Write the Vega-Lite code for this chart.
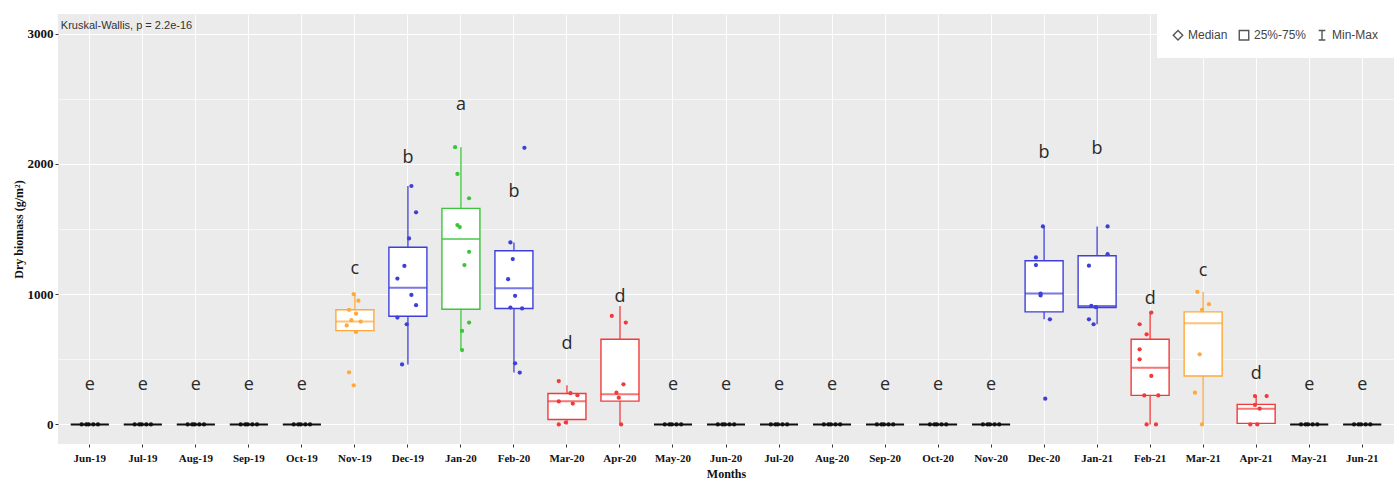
{
  "$schema": "https://vega.github.io/schema/vega-lite/v6.json",
  "width": 1336,
  "height": 430,
  "autosize": {"type": "none"},
  "padding": {"left": 58, "top": 14, "right": 3, "bottom": 38},
  "background": "white",
  "config": {
    "view": {"fill": "#EBEBEB", "stroke": null},
    "axis": {"domain": false, "tickColor": "#333333", "tickSize": 3, "gridColor": "#FFFFFF"}
  },
  "datasets": {
    "stats": [
      {"month": "Jun-19", "group": "e", "lo": 0, "q1": 0, "med": 0, "q3": 0, "hi": 0, "label_y": 300},
      {"month": "Jul-19", "group": "e", "lo": 0, "q1": 0, "med": 0, "q3": 0, "hi": 0, "label_y": 300},
      {"month": "Aug-19", "group": "e", "lo": 0, "q1": 0, "med": 0, "q3": 0, "hi": 0, "label_y": 300},
      {"month": "Sep-19", "group": "e", "lo": 0, "q1": 0, "med": 0, "q3": 0, "hi": 0, "label_y": 300},
      {"month": "Oct-19", "group": "e", "lo": 0, "q1": 0, "med": 0, "q3": 0, "hi": 0, "label_y": 300},
      {"month": "Nov-19", "group": "c", "lo": 700, "q1": 720, "med": 790, "q3": 880, "hi": 1000, "label_y": 1195},
      {"month": "Dec-19", "group": "b", "lo": 461, "q1": 830, "med": 1050, "q3": 1360, "hi": 1830, "label_y": 2045},
      {"month": "Jan-20", "group": "a", "lo": 571, "q1": 884, "med": 1423, "q3": 1658, "hi": 2128, "label_y": 2450},
      {"month": "Feb-20", "group": "b", "lo": 398, "q1": 890, "med": 1046, "q3": 1333, "hi": 1397, "label_y": 1785},
      {"month": "Mar-20", "group": "d", "lo": 0, "q1": 38, "med": 179, "q3": 238, "hi": 300, "label_y": 615},
      {"month": "Apr-20", "group": "d", "lo": 0, "q1": 179, "med": 231, "q3": 654, "hi": 910, "label_y": 975},
      {"month": "May-20", "group": "e", "lo": 0, "q1": 0, "med": 0, "q3": 0, "hi": 0, "label_y": 300},
      {"month": "Jun-20", "group": "e", "lo": 0, "q1": 0, "med": 0, "q3": 0, "hi": 0, "label_y": 300},
      {"month": "Jul-20", "group": "e", "lo": 0, "q1": 0, "med": 0, "q3": 0, "hi": 0, "label_y": 300},
      {"month": "Aug-20", "group": "e", "lo": 0, "q1": 0, "med": 0, "q3": 0, "hi": 0, "label_y": 300},
      {"month": "Sep-20", "group": "e", "lo": 0, "q1": 0, "med": 0, "q3": 0, "hi": 0, "label_y": 300},
      {"month": "Oct-20", "group": "e", "lo": 0, "q1": 0, "med": 0, "q3": 0, "hi": 0, "label_y": 300},
      {"month": "Nov-20", "group": "e", "lo": 0, "q1": 0, "med": 0, "q3": 0, "hi": 0, "label_y": 300},
      {"month": "Dec-20", "group": "b", "lo": 807, "q1": 864, "med": 1005, "q3": 1256, "hi": 1520, "label_y": 2085},
      {"month": "Jan-21", "group": "b", "lo": 769, "q1": 897, "med": 910, "q3": 1295, "hi": 1520, "label_y": 2115},
      {"month": "Feb-21", "group": "d", "lo": 0, "q1": 223, "med": 436, "q3": 654, "hi": 859, "label_y": 960},
      {"month": "Mar-21", "group": "c", "lo": 0, "q1": 372, "med": 777, "q3": 864, "hi": 1018, "label_y": 1180},
      {"month": "Apr-21", "group": "d", "lo": 0, "q1": 8, "med": 121, "q3": 154, "hi": 218, "label_y": 385},
      {"month": "May-21", "group": "e", "lo": 0, "q1": 0, "med": 0, "q3": 0, "hi": 0, "label_y": 300},
      {"month": "Jun-21", "group": "e", "lo": 0, "q1": 0, "med": 0, "q3": 0, "hi": 0, "label_y": 300}
    ],
    "points": [
      {"month": "Jun-19", "group": "e", "biomass": 0, "rep": 2}, {"month": "Jun-19", "group": "e", "biomass": 0, "rep": 4}, {"month": "Jun-19", "group": "e", "biomass": 0, "rep": 5}, {"month": "Jun-19", "group": "e", "biomass": 0, "rep": 7}, {"month": "Jun-19", "group": "e", "biomass": 0, "rep": 9},
      {"month": "Jul-19", "group": "e", "biomass": 0, "rep": 2}, {"month": "Jul-19", "group": "e", "biomass": 0, "rep": 4}, {"month": "Jul-19", "group": "e", "biomass": 0, "rep": 5}, {"month": "Jul-19", "group": "e", "biomass": 0, "rep": 7}, {"month": "Jul-19", "group": "e", "biomass": 0, "rep": 9},
      {"month": "Aug-19", "group": "e", "biomass": 0, "rep": 2}, {"month": "Aug-19", "group": "e", "biomass": 0, "rep": 4}, {"month": "Aug-19", "group": "e", "biomass": 0, "rep": 5}, {"month": "Aug-19", "group": "e", "biomass": 0, "rep": 7}, {"month": "Aug-19", "group": "e", "biomass": 0, "rep": 9},
      {"month": "Sep-19", "group": "e", "biomass": 0, "rep": 2}, {"month": "Sep-19", "group": "e", "biomass": 0, "rep": 4}, {"month": "Sep-19", "group": "e", "biomass": 0, "rep": 5}, {"month": "Sep-19", "group": "e", "biomass": 0, "rep": 7}, {"month": "Sep-19", "group": "e", "biomass": 0, "rep": 9},
      {"month": "Oct-19", "group": "e", "biomass": 0, "rep": 2}, {"month": "Oct-19", "group": "e", "biomass": 0, "rep": 4}, {"month": "Oct-19", "group": "e", "biomass": 0, "rep": 5}, {"month": "Oct-19", "group": "e", "biomass": 0, "rep": 7}, {"month": "Oct-19", "group": "e", "biomass": 0, "rep": 9},
      {"month": "Nov-19", "group": "c", "biomass": 1000, "rep": 5}, {"month": "Nov-19", "group": "c", "biomass": 950, "rep": 7}, {"month": "Nov-19", "group": "c", "biomass": 880, "rep": 3}, {"month": "Nov-19", "group": "c", "biomass": 850, "rep": 6}, {"month": "Nov-19", "group": "c", "biomass": 800, "rep": 4}, {"month": "Nov-19", "group": "c", "biomass": 790, "rep": 8}, {"month": "Nov-19", "group": "c", "biomass": 760, "rep": 2}, {"month": "Nov-19", "group": "c", "biomass": 710, "rep": 6}, {"month": "Nov-19", "group": "c", "biomass": 400, "rep": 3}, {"month": "Nov-19", "group": "c", "biomass": 300, "rep": 5},
      {"month": "Dec-19", "group": "b", "biomass": 1830, "rep": 7}, {"month": "Dec-19", "group": "b", "biomass": 1628, "rep": 9}, {"month": "Dec-19", "group": "b", "biomass": 1428, "rep": 6}, {"month": "Dec-19", "group": "b", "biomass": 1217, "rep": 4}, {"month": "Dec-19", "group": "b", "biomass": 1120, "rep": 1}, {"month": "Dec-19", "group": "b", "biomass": 994, "rep": 7}, {"month": "Dec-19", "group": "b", "biomass": 915, "rep": 9}, {"month": "Dec-19", "group": "b", "biomass": 820, "rep": 1}, {"month": "Dec-19", "group": "b", "biomass": 769, "rep": 5}, {"month": "Dec-19", "group": "b", "biomass": 461, "rep": 3},
      {"month": "Jan-20", "group": "a", "biomass": 2128, "rep": 3}, {"month": "Jan-20", "group": "a", "biomass": 1923, "rep": 4}, {"month": "Jan-20", "group": "a", "biomass": 1736, "rep": 9}, {"month": "Jan-20", "group": "a", "biomass": 1530, "rep": 4}, {"month": "Jan-20", "group": "a", "biomass": 1515, "rep": 5}, {"month": "Jan-20", "group": "a", "biomass": 1325, "rep": 9}, {"month": "Jan-20", "group": "a", "biomass": 1223, "rep": 7}, {"month": "Jan-20", "group": "a", "biomass": 782, "rep": 9}, {"month": "Jan-20", "group": "a", "biomass": 718, "rep": 6}, {"month": "Jan-20", "group": "a", "biomass": 571, "rep": 6},
      {"month": "Feb-20", "group": "b", "biomass": 2123, "rep": 10}, {"month": "Feb-20", "group": "b", "biomass": 1397, "rep": 4}, {"month": "Feb-20", "group": "b", "biomass": 1269, "rep": 5}, {"month": "Feb-20", "group": "b", "biomass": 1115, "rep": 3}, {"month": "Feb-20", "group": "b", "biomass": 987, "rep": 6}, {"month": "Feb-20", "group": "b", "biomass": 897, "rep": 4}, {"month": "Feb-20", "group": "b", "biomass": 890, "rep": 9}, {"month": "Feb-20", "group": "b", "biomass": 469, "rep": 6}, {"month": "Feb-20", "group": "b", "biomass": 398, "rep": 8},
      {"month": "Mar-20", "group": "d", "biomass": 333, "rep": 2}, {"month": "Mar-20", "group": "d", "biomass": 240, "rep": 7}, {"month": "Mar-20", "group": "d", "biomass": 225, "rep": 10}, {"month": "Mar-20", "group": "d", "biomass": 177, "rep": 2}, {"month": "Mar-20", "group": "d", "biomass": 160, "rep": 8}, {"month": "Mar-20", "group": "d", "biomass": 15, "rep": 5}, {"month": "Mar-20", "group": "d", "biomass": 0, "rep": 2},
      {"month": "Apr-20", "group": "d", "biomass": 833, "rep": 2}, {"month": "Apr-20", "group": "d", "biomass": 782, "rep": 8}, {"month": "Apr-20", "group": "d", "biomass": 308, "rep": 7}, {"month": "Apr-20", "group": "d", "biomass": 244, "rep": 4}, {"month": "Apr-20", "group": "d", "biomass": 205, "rep": 5}, {"month": "Apr-20", "group": "d", "biomass": 0, "rep": 6},
      {"month": "May-20", "group": "e", "biomass": 0, "rep": 2}, {"month": "May-20", "group": "e", "biomass": 0, "rep": 4}, {"month": "May-20", "group": "e", "biomass": 0, "rep": 5}, {"month": "May-20", "group": "e", "biomass": 0, "rep": 7}, {"month": "May-20", "group": "e", "biomass": 0, "rep": 9},
      {"month": "Jun-20", "group": "e", "biomass": 0, "rep": 2}, {"month": "Jun-20", "group": "e", "biomass": 0, "rep": 4}, {"month": "Jun-20", "group": "e", "biomass": 0, "rep": 5}, {"month": "Jun-20", "group": "e", "biomass": 0, "rep": 7}, {"month": "Jun-20", "group": "e", "biomass": 0, "rep": 9},
      {"month": "Jul-20", "group": "e", "biomass": 0, "rep": 2}, {"month": "Jul-20", "group": "e", "biomass": 0, "rep": 4}, {"month": "Jul-20", "group": "e", "biomass": 0, "rep": 5}, {"month": "Jul-20", "group": "e", "biomass": 0, "rep": 7}, {"month": "Jul-20", "group": "e", "biomass": 0, "rep": 9},
      {"month": "Aug-20", "group": "e", "biomass": 0, "rep": 2}, {"month": "Aug-20", "group": "e", "biomass": 0, "rep": 4}, {"month": "Aug-20", "group": "e", "biomass": 0, "rep": 5}, {"month": "Aug-20", "group": "e", "biomass": 0, "rep": 7}, {"month": "Aug-20", "group": "e", "biomass": 0, "rep": 9},
      {"month": "Sep-20", "group": "e", "biomass": 0, "rep": 2}, {"month": "Sep-20", "group": "e", "biomass": 0, "rep": 4}, {"month": "Sep-20", "group": "e", "biomass": 0, "rep": 5}, {"month": "Sep-20", "group": "e", "biomass": 0, "rep": 7}, {"month": "Sep-20", "group": "e", "biomass": 0, "rep": 9},
      {"month": "Oct-20", "group": "e", "biomass": 0, "rep": 2}, {"month": "Oct-20", "group": "e", "biomass": 0, "rep": 4}, {"month": "Oct-20", "group": "e", "biomass": 0, "rep": 5}, {"month": "Oct-20", "group": "e", "biomass": 0, "rep": 7}, {"month": "Oct-20", "group": "e", "biomass": 0, "rep": 9},
      {"month": "Nov-20", "group": "e", "biomass": 0, "rep": 2}, {"month": "Nov-20", "group": "e", "biomass": 0, "rep": 4}, {"month": "Nov-20", "group": "e", "biomass": 0, "rep": 5}, {"month": "Nov-20", "group": "e", "biomass": 0, "rep": 7}, {"month": "Nov-20", "group": "e", "biomass": 0, "rep": 9},
      {"month": "Dec-20", "group": "b", "biomass": 1520, "rep": 5}, {"month": "Dec-20", "group": "b", "biomass": 1282, "rep": 2}, {"month": "Dec-20", "group": "b", "biomass": 1223, "rep": 2}, {"month": "Dec-20", "group": "b", "biomass": 1005, "rep": 4}, {"month": "Dec-20", "group": "b", "biomass": 990, "rep": 4}, {"month": "Dec-20", "group": "b", "biomass": 807, "rep": 8}, {"month": "Dec-20", "group": "b", "biomass": 198, "rep": 6},
      {"month": "Jan-21", "group": "b", "biomass": 1520, "rep": 10}, {"month": "Jan-21", "group": "b", "biomass": 1307, "rep": 10}, {"month": "Jan-21", "group": "b", "biomass": 1218, "rep": 2}, {"month": "Jan-21", "group": "b", "biomass": 910, "rep": 3}, {"month": "Jan-21", "group": "b", "biomass": 900, "rep": 5}, {"month": "Jan-21", "group": "b", "biomass": 807, "rep": 2}, {"month": "Jan-21", "group": "b", "biomass": 769, "rep": 4},
      {"month": "Feb-21", "group": "d", "biomass": 859, "rep": 6}, {"month": "Feb-21", "group": "d", "biomass": 769, "rep": 1}, {"month": "Feb-21", "group": "d", "biomass": 692, "rep": 4}, {"month": "Feb-21", "group": "d", "biomass": 577, "rep": 1}, {"month": "Feb-21", "group": "d", "biomass": 500, "rep": 1}, {"month": "Feb-21", "group": "d", "biomass": 372, "rep": 6}, {"month": "Feb-21", "group": "d", "biomass": 223, "rep": 3}, {"month": "Feb-21", "group": "d", "biomass": 223, "rep": 9}, {"month": "Feb-21", "group": "d", "biomass": 0, "rep": 4}, {"month": "Feb-21", "group": "d", "biomass": 0, "rep": 8},
      {"month": "Mar-21", "group": "c", "biomass": 1018, "rep": 3}, {"month": "Mar-21", "group": "c", "biomass": 923, "rep": 8}, {"month": "Mar-21", "group": "c", "biomass": 880, "rep": 5}, {"month": "Mar-21", "group": "c", "biomass": 538, "rep": 4}, {"month": "Mar-21", "group": "c", "biomass": 244, "rep": 2}, {"month": "Mar-21", "group": "c", "biomass": 0, "rep": 5},
      {"month": "Apr-21", "group": "d", "biomass": 218, "rep": 5}, {"month": "Apr-21", "group": "d", "biomass": 218, "rep": 10}, {"month": "Apr-21", "group": "d", "biomass": 150, "rep": 5}, {"month": "Apr-21", "group": "d", "biomass": 121, "rep": 7}, {"month": "Apr-21", "group": "d", "biomass": 0, "rep": 3}, {"month": "Apr-21", "group": "d", "biomass": 0, "rep": 6},
      {"month": "May-21", "group": "e", "biomass": 0, "rep": 2}, {"month": "May-21", "group": "e", "biomass": 0, "rep": 4}, {"month": "May-21", "group": "e", "biomass": 0, "rep": 5}, {"month": "May-21", "group": "e", "biomass": 0, "rep": 7}, {"month": "May-21", "group": "e", "biomass": 0, "rep": 9},
      {"month": "Jun-21", "group": "e", "biomass": 0, "rep": 2}, {"month": "Jun-21", "group": "e", "biomass": 0, "rep": 4}, {"month": "Jun-21", "group": "e", "biomass": 0, "rep": 5}, {"month": "Jun-21", "group": "e", "biomass": 0, "rep": 7}, {"month": "Jun-21", "group": "e", "biomass": 0, "rep": 9}
    ],
    "kw": [{"month": "Jun-19", "y": 3000, "label": "Kruskal-Wallis, p = 2.2e-16"}],
    "legendItems": [{"stat": "Median"}, {"stat": "25%-75%"}, {"stat": "Min-Max"}]
  },
  "encoding": {
    "x": {
      "field": "month", "type": "nominal",
      "scale": {
        "domain": ["Jun-19","Jul-19","Aug-19","Sep-19","Oct-19","Nov-19","Dec-19","Jan-20","Feb-20","Mar-20","Apr-20","May-20","Jun-20","Jul-20","Aug-20","Sep-20","Oct-20","Nov-20","Dec-20","Jan-21","Feb-21","Mar-21","Apr-21","May-21","Jun-21"],
        "type": "band", "paddingInner": 0, "paddingOuter": 0.1
      },
      "axis": {
        "title": "Months", "labelAngle": 0, "bandPosition": 0.5,
        "labelFont": "Liberation Serif", "labelFontWeight": "bold", "labelFontSize": 11, "labelColor": "#111111", "labelPadding": 5,
        "titleFont": "Liberation Serif", "titleFontWeight": "bold", "titleFontSize": 12, "titleColor": "#111111", "titlePadding": 5,
        "grid": true, "gridWidth": 0.9
      }
    }
  },
  "layer": [
    {
      "data": {"name": "stats"},
      "mark": {"type": "rule", "strokeWidth": 1.3},
      "encoding": {
        "y": {"field": "lo", "type": "quantitative",
          "scale": {"domain": [-150, 3150], "nice": false, "zero": false},
          "axis": {
            "title": "Dry biomass (g/m²)",
            "values": [0, 500, 1000, 1500, 2000, 2500, 3000],
            "labelExpr": "datum.value % 1000 === 0 ? datum.value : ''",
            "gridWidth": {"condition": {"test": "datum.value % 1000 === 0", "value": 1.2}, "value": 0.6},
            "tickOpacity": {"condition": {"test": "datum.value % 1000 === 0", "value": 1}, "value": 0},
            "labelFont": "Liberation Serif", "labelFontWeight": "bold", "labelFontSize": 13, "labelColor": "#111111", "labelPadding": 2,
            "titleFont": "Liberation Serif", "titleFontWeight": "bold", "titleFontSize": 12, "titleColor": "#111111", "titlePadding": 2
          }
        },
        "y2": {"field": "hi"},
        "color": {"field": "group", "type": "nominal",
          "scale": {"domain": ["a", "b", "c", "d", "e"], "range": ["#3CC43C", "#3F3FD8", "#FFA93A", "#F23A3A", "#111111"]},
          "legend": null}
      }
    },
    {
      "data": {"name": "stats"},
      "mark": {"type": "bar", "fill": "white", "strokeWidth": 1.4, "size": 38},
      "encoding": {
        "y": {"field": "q1", "type": "quantitative"},
        "y2": {"field": "q3"},
        "stroke": {"field": "group", "type": "nominal",
          "scale": {"domain": ["a", "b", "c", "d", "e"], "range": ["#3CC43C", "#3F3FD8", "#FFA93A", "#F23A3A", "#111111"]},
          "legend": null}
      }
    },
    {
      "data": {"name": "stats"},
      "mark": {"type": "tick", "size": 38, "thickness": 2},
      "encoding": {
        "y": {"field": "med", "type": "quantitative"},
        "color": {"field": "group", "type": "nominal", "legend": null}
      }
    },
    {
      "data": {"name": "points"},
      "mark": {"type": "circle", "size": 18, "opacity": 1},
      "encoding": {
        "y": {"field": "biomass", "type": "quantitative"},
        "xOffset": {"field": "rep", "type": "ordinal",
          "scale": {"type": "point", "domain": [1, 2, 3, 4, 5, 6, 7, 8, 9, 10], "range": [16, 37], "padding": 0}},
        "color": {"field": "group", "type": "nominal", "legend": null}
      }
    },
    {
      "data": {"name": "stats"},
      "mark": {"type": "text", "font": "Open Sans", "fontSize": 18, "color": "#2a2a2a", "baseline": "middle"},
      "encoding": {
        "y": {"field": "label_y", "type": "quantitative"},
        "text": {"field": "group"}
      }
    },
    {
      "data": {"name": "kw"},
      "mark": {"type": "text", "font": "Liberation Sans", "fontSize": 11, "color": "#333333", "align": "left", "baseline": "middle", "dx": -29, "dy": -8},
      "encoding": {
        "y": {"field": "y", "type": "quantitative"},
        "text": {"field": "label"}
      }
    },
    {
      "data": {"name": "legendItems"},
      "mark": {"type": "point", "opacity": 0, "filled": false, "color": "#555555"},
      "encoding": {
        "shape": {"field": "stat", "type": "nominal",
          "scale": {"domain": ["Median", "25%-75%", "Min-Max"], "range": ["diamond", "square", "M-0.7,-1H0.7M0,-1V1M-0.7,1H0.7"]},
          "legend": {"title": null, "orient": "top-right", "direction": "horizontal", "offset": 0, "padding": 15,
            "fillColor": "white", "symbolOpacity": 1, "symbolType": "square", "symbolStrokeColor": "#555555", "symbolFillColor": "transparent", "symbolStrokeWidth": 1.4, "symbolSize": 90,
            "labelFont": "Liberation Sans", "labelFontSize": 12, "labelColor": "#444444", "columnPadding": 8, "labelOffset": 4}}
      }
    }
  ]
}
